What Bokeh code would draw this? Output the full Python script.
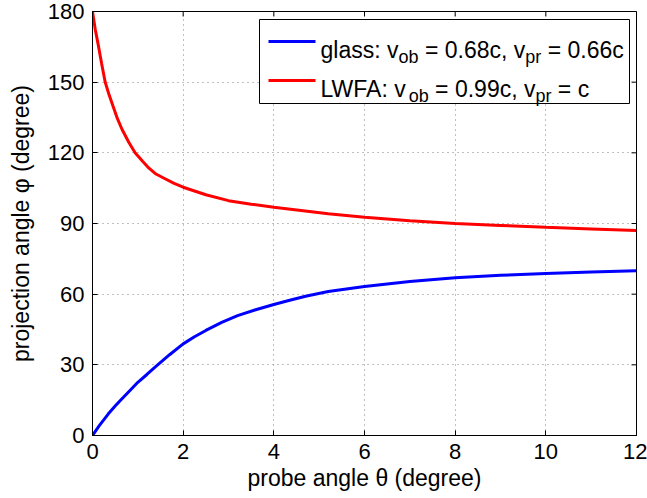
from bokeh.plotting import figure
from bokeh.models import Range1d, FixedTicker, BoxAnnotation, Label
from bokeh.embed import file_html
from bokeh.resources import INLINE

# ---- data ----
x_ticks = [0, 2, 4, 6, 8, 10, 12]
y_ticks = [0, 30, 60, 90, 120, 150, 180]

glass_theta = [0, 0.15, 0.35, 0.5, 0.65, 0.8, 1.0, 1.2, 1.38, 1.7, 2.0, 2.25, 2.5, 2.85,
               3.2, 3.6, 4.0, 4.35, 4.7, 5.2, 6, 7, 8, 9, 10, 11, 12]
glass_phi = [0, 4.2, 9.2, 12.5, 15.6, 18.6, 22.6, 25.9, 29.0, 34.3, 38.9, 41.9, 44.6, 48.0,
             50.9, 53.4, 55.6, 57.4, 59.1, 61.1, 63.3, 65.4, 67.0, 68.0, 68.8, 69.4, 69.9]

lwfa_theta = [0, 0.06, 0.13, 0.2, 0.28, 0.36, 0.45, 0.55, 0.65, 0.8, 0.94, 1.1, 1.24, 1.4,
              1.6, 1.8, 2.0, 2.5, 3.0, 3.5, 4.0, 5.2, 6, 7, 8, 9, 10, 11, 12]
lwfa_phi = [180, 172.5, 165.5, 158, 150, 145, 140, 134.5, 130, 124.5, 120, 116.5, 113.6, 111,
            109, 107, 105.4, 102.2, 99.7, 98.2, 96.9, 94.1, 92.7, 91.2, 90.0, 89.2, 88.4, 87.7, 87.0]

legend_rows = [
    [("glass: v", "m"), ("ob", "s"), (" = 0.68c, v", "m"), ("pr", "s"), (" = 0.66c", "m")],
    [("LWFA: v", "m"), ("ob", "s"), (" = 0.99c, v", "m"), ("pr", "s"), (" = c", "m")],
]
legend_colors = ["#0000ff", "#ff0000"]

# ---- layout ----
W, H = 647, 498
FL, FR, FT, FB = 92, 636, 11, 435
FONT = "Liberation Sans"
MAIN, SUB = 23, 18
TICK = 5

p = figure(width=W, height=H, x_range=Range1d(0, 12), y_range=Range1d(0, 180),
           output_backend="svg", toolbar_location=None,
           min_border_left=FL, min_border_right=W - FR, min_border_top=FT,
           min_border_bottom=H - FB)
p.background_fill_color = "white"
p.border_fill_color = "white"
p.outline_line_color = "black"
p.outline_line_width = 1

for ax, tk, lab in [(p.xaxis[0], x_ticks, "probe angle θ (degree)"),
                    (p.yaxis[0], y_ticks, "projection angle φ (degree)")]:
    ax.ticker = FixedTicker(ticks=tk)
    ax.axis_label = lab
    ax.axis_label_text_font = FONT
    ax.axis_label_text_font_size = "23px"
    ax.axis_label_text_font_style = "normal"
    ax.axis_label_text_color = "black"
    ax.major_label_text_font = FONT
    ax.major_label_text_font_size = "22px"
    ax.major_label_text_color = "black"
    ax.major_tick_in = TICK
    ax.major_tick_out = 0
    ax.minor_tick_in = 0
    ax.minor_tick_out = 0
    ax.axis_line_color = "black"
    ax.major_tick_line_color = "black"

p.xaxis[0].major_label_standoff = 8
p.xaxis[0].axis_label_standoff = 3
p.yaxis[0].major_label_standoff = 8
p.yaxis[0].axis_label_standoff = 11

p.xgrid.ticker = FixedTicker(ticks=x_ticks)
p.ygrid.ticker = FixedTicker(ticks=y_ticks)
for g in (p.xgrid[0], p.ygrid[0]):
    g.grid_line_color = "#808080"
    g.grid_line_dash = "1 4"
    g.grid_line_width = 1

p.line(glass_theta, glass_phi, line_color=legend_colors[0], line_width=3)
p.line(lwfa_theta, lwfa_phi, line_color=legend_colors[1], line_width=3)

# ---- pixel -> data helpers for layout items ----
def dx(px):
    return (px - FL) / (FR - FL) * 12.0

def dy(py):
    return (FB - py) / (FB - FT) * 180.0

# inward ticks on the top and right edges of the box (MATLAB style)
tdx = dx(FL + TICK)
tdy = dy(FB - TICK)
p.segment(x0=x_ticks, y0=[180] * len(x_ticks), x1=x_ticks, y1=[180 - tdy] * len(x_ticks),
          line_color="black", line_width=1)
p.segment(x0=[12] * len(y_ticks), y0=y_ticks, x1=[12 - tdx] * len(y_ticks), y1=y_ticks,
          line_color="black", line_width=1)

# ---- hand-drawn legend (for subscripts) ----
p.add_layout(BoxAnnotation(left=dx(259), right=dx(629), top=dy(19), bottom=dy(103),
                           fill_color="white", fill_alpha=1.0,
                           line_color="black", line_width=1, line_alpha=1.0))

ADV = {'g': .556, 'l': .222, 'a': .556, 's': .5, ':': .278, ' ': .278, 'v': .5,
       'o': .556, 'b': .556, '=': .584, '.': .278, 'c': .5, ',': .278, 'p': .556,
       'r': .333, 'L': .556, 'W': .944, 'F': .611, 'A': .667}
for ch in "0123456789":
    ADV[ch] = .556

row_mid = [41, 80]
for r, pieces in enumerate(legend_rows):
    ym = row_mid[r]
    p.line([dx(268), dx(315)], [dy(ym), dy(ym)], line_color=legend_colors[r],
           line_width=3, level="overlay")
    x = 320.0
    for txt, kind in pieces:
        size = MAIN if kind == "m" else SUB
        base = ym + 8 if kind == "m" else ym + 15
        lead = len(txt) - len(txt.lstrip(" "))
        x += lead * ADV[' '] * size
        body = txt.lstrip(" ")
        p.add_layout(Label(x=dx(x), y=dy(base), text=body, text_font=FONT,
                           text_font_size=f"{size}px", text_color="black",
                           text_align="left", text_baseline="alphabetic"))
        x += sum(ADV.get(c, .556) for c in body) * size

open("out.html", "w").write(file_html(p, INLINE))
